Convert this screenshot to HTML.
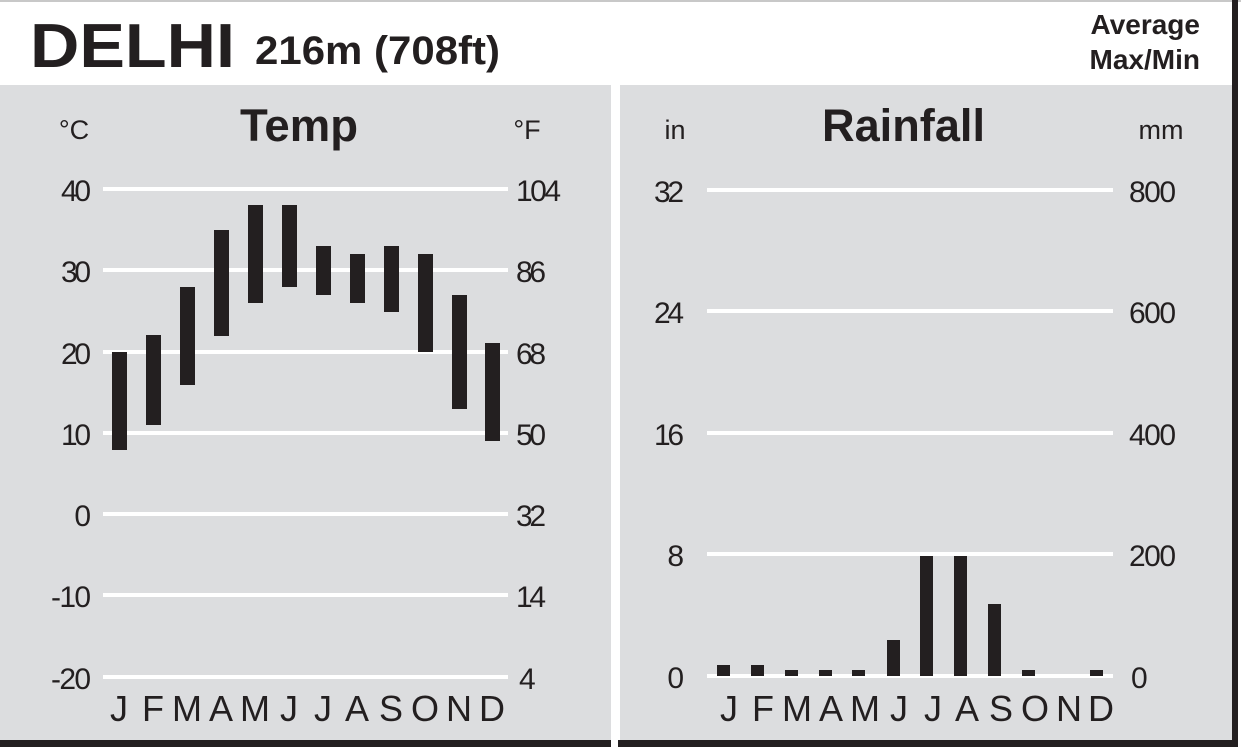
<!DOCTYPE html>
<html><head><style>
html,body{margin:0;padding:0;background:#fff}
svg{display:block}
text{font-family:"Liberation Sans",sans-serif;fill:#231f20}
</style></head><body>
<svg width="1241" height="747" viewBox="0 0 1241 747">
<rect x="0" y="0" width="1241" height="747" fill="#fff"/>
<rect x="0" y="0" width="1241" height="2" fill="#c8c8c8"/>
<rect x="0" y="85" width="611" height="656" fill="#dcdddf"/>
<rect x="620" y="85" width="612" height="656" fill="#dcdddf"/>
<rect x="1232" y="0" width="6" height="747" fill="#231f20"/>
<rect x="0" y="740" width="611" height="7" fill="#231f20"/>
<rect x="618" y="740" width="620" height="7" fill="#231f20"/>
<text x="30" y="67" font-size="62" font-weight="bold" textLength="205" lengthAdjust="spacingAndGlyphs">DELHI</text>
<text x="255" y="64" font-size="40" font-weight="bold" textLength="245" lengthAdjust="spacingAndGlyphs">216m (708ft)</text>
<text x="1200" y="34" font-size="28" font-weight="bold" text-anchor="end">Average</text>
<text x="1200" y="69" font-size="28" font-weight="bold" text-anchor="end">Max/Min</text>
<text x="240" y="141" font-size="45" font-weight="bold" textLength="118" lengthAdjust="spacingAndGlyphs">Temp</text>
<text x="822" y="141" font-size="45" font-weight="bold" textLength="163" lengthAdjust="spacingAndGlyphs">Rainfall</text>
<text x="74" y="139" font-size="27" text-anchor="middle">°C</text>
<text x="527" y="139" font-size="27" text-anchor="middle">°F</text>
<text x="675" y="139" font-size="27" text-anchor="middle">in</text>
<text x="1161" y="139" font-size="27" text-anchor="middle">mm</text>
<g stroke="#fff" stroke-width="4">
<line x1="103" x2="508" y1="189" y2="189"/><line x1="103" x2="508" y1="270" y2="270"/>
<line x1="103" x2="508" y1="352" y2="352"/><line x1="103" x2="508" y1="433" y2="433"/>
<line x1="103" x2="508" y1="514" y2="514"/><line x1="103" x2="508" y1="595" y2="595"/>
<line x1="103" x2="508" y1="677" y2="677"/>
<line x1="707" x2="1113" y1="190" y2="190"/><line x1="707" x2="1113" y1="311" y2="311"/>
<line x1="707" x2="1113" y1="433" y2="433"/><line x1="707" x2="1113" y1="554" y2="554"/>
<line x1="707" x2="1113" y1="676" y2="676"/>
</g>
<g font-size="30" text-anchor="end" lengthAdjust="spacingAndGlyphs">
<text x="91" y="201" textLength="30">40</text><text x="91" y="282" textLength="30">30</text><text x="91" y="364" textLength="30">20</text>
<text x="91" y="445" textLength="30">10</text><text x="91" y="526">0</text><text x="91" y="607" textLength="40">-10</text><text x="91" y="689" textLength="40">-20</text>
<text x="684" y="202" textLength="30">32</text><text x="684" y="323" textLength="30">24</text><text x="684" y="445" textLength="30">16</text>
<text x="684" y="566">8</text><text x="684" y="688">0</text>
</g>
<g font-size="30" text-anchor="start" lengthAdjust="spacingAndGlyphs">
<text x="516" y="201" textLength="45">104</text><text x="516" y="282" textLength="30">86</text><text x="516" y="364" textLength="30">68</text>
<text x="516" y="445" textLength="30">50</text><text x="516" y="526" textLength="30">32</text><text x="516" y="607" textLength="30">14</text><text x="519" y="689">4</text>
<text x="1129" y="202" textLength="47">800</text><text x="1129" y="323" textLength="47">600</text><text x="1129" y="445" textLength="47">400</text>
<text x="1129" y="566" textLength="47">200</text><text x="1131" y="688">0</text>
</g>
<g fill="#231f20">
<rect x="112" y="352" width="15" height="98"/>
<rect x="146" y="335" width="15" height="90"/>
<rect x="180" y="287" width="15" height="98"/>
<rect x="214" y="230" width="15" height="106"/>
<rect x="248" y="205" width="15" height="98"/>
<rect x="282" y="205" width="15" height="82"/>
<rect x="316" y="246" width="15" height="49"/>
<rect x="350" y="254" width="15" height="49"/>
<rect x="384" y="246" width="15" height="66"/>
<rect x="418" y="254" width="15" height="98"/>
<rect x="452" y="295" width="15" height="114"/>
<rect x="485" y="343" width="15" height="98"/>
<rect x="717" y="665" width="13" height="11"/>
<rect x="751" y="665" width="13" height="11"/>
<rect x="785" y="670" width="13" height="6"/>
<rect x="819" y="670" width="13" height="6"/>
<rect x="852" y="670" width="13" height="6"/>
<rect x="887" y="640" width="13" height="36"/>
<rect x="920" y="556" width="13" height="120"/>
<rect x="954" y="556" width="13" height="120"/>
<rect x="988" y="604" width="13" height="72"/>
<rect x="1022" y="670" width="13" height="6"/>
<rect x="1090" y="670" width="13" height="6"/>
</g>
<g font-size="36" text-anchor="middle">
<text x="119" y="721">J</text><text x="153" y="721">F</text><text x="187" y="721">M</text>
<text x="221" y="721">A</text><text x="255" y="721">M</text><text x="289" y="721">J</text>
<text x="323" y="721">J</text><text x="357" y="721">A</text><text x="391" y="721">S</text>
<text x="425" y="721">O</text><text x="459" y="721">N</text><text x="492" y="721">D</text>
<text x="729" y="721">J</text><text x="763" y="721">F</text><text x="797" y="721">M</text>
<text x="831" y="721">A</text><text x="865" y="721">M</text><text x="899" y="721">J</text>
<text x="933" y="721">J</text><text x="967" y="721">A</text><text x="1001" y="721">S</text>
<text x="1035" y="721">O</text><text x="1069" y="721">N</text><text x="1101" y="721">D</text>
</g>
</svg>
</body></html>
